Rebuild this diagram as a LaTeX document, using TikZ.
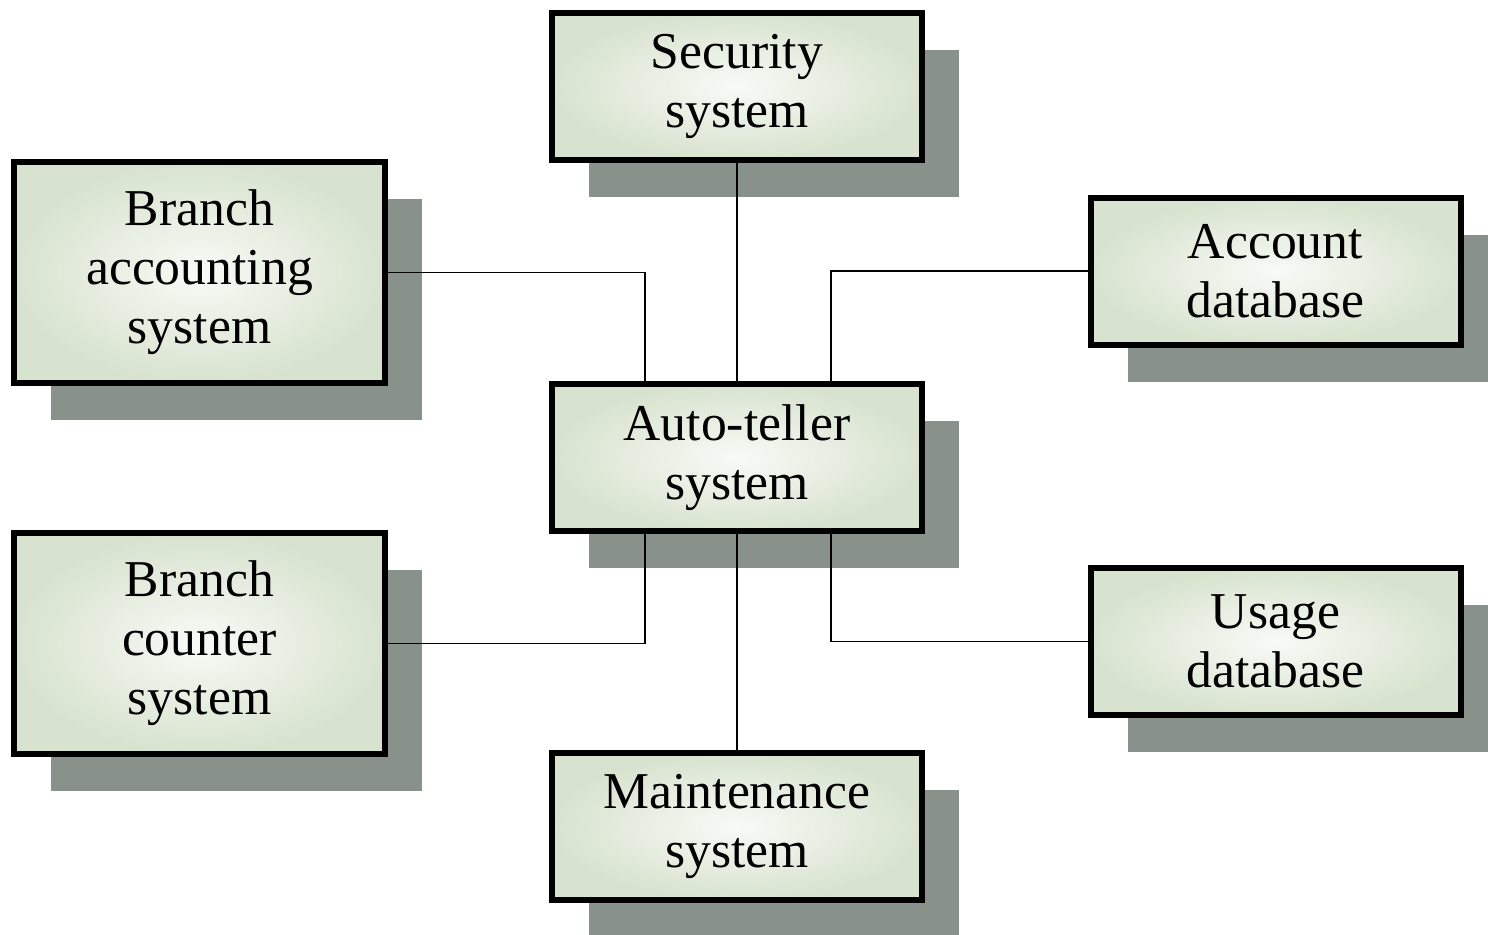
\documentclass[tikz,border=0pt]{standalone}
\usepackage{fontspec}
\setmainfont{Liberation Serif}
\usepackage{tikz}
\usetikzlibrary{shadows}
\usetikzlibrary{positioning}

\definecolor{boxedge}{RGB}{216,227,207}
\definecolor{boxmid}{RGB}{248,250,246}
\definecolor{shadowgray}{RGB}{136,146,138}

\begin{document}
\begin{tikzpicture}[-,auto,font=\fontsize{14.7}{16.8}\selectfont]

    % Define styles
    \tikzstyle{system} = [rectangle, draw, line width=0.06cm, align=center, inner color=boxmid, outer color=boxedge, minimum width=3.70cm, minimum height=1.47cm, drop shadow={shadow xshift=0.37cm, shadow yshift=-0.37cm, fill=shadowgray, opacity=1}]
    \tikzstyle{tall} = [minimum width=3.71cm, minimum height=2.21cm]
    \tikzstyle{link} = [line width=0.5pt]

    \useasboundingbox (0,0) rectangle (14.88,-9.34);

    % Systems
    \node[system] (security) at (7.37, -0.86) {Security\\system};
    \node[system, tall] (branchAcc) at (1.995, -2.725) {Branch\\accounting\\system};
    \node[system] (accountDB) at (12.755, -2.71) {Account\\database};
    \node[system] (atm) at (7.37, -4.575) {Auto-teller\\system};
    \node[system, tall] (branchCtr) at (1.995, -6.435) {Branch\\counter\\system};
    \node[system] (usageDB) at (12.755, -6.415) {Usage\\database};
    \node[system] (maintenance) at (7.37, -8.265) {Maintenance\\system};

    % Links
    \draw[link] (security) -- (atm);
    \draw[link] (branchAcc.east) -| ([xshift=-0.92cm]atm.north);
    \draw[link] (accountDB.west) -| ([xshift=0.94cm]atm.north);
    \draw[link] ([xshift=-0.92cm]atm.south) |- (branchCtr.east);
    \draw[link] ([xshift=0.94cm]atm.south) |- (usageDB.west);
    \draw[link] (atm) -- (maintenance);

\end{tikzpicture}
\end{document}
